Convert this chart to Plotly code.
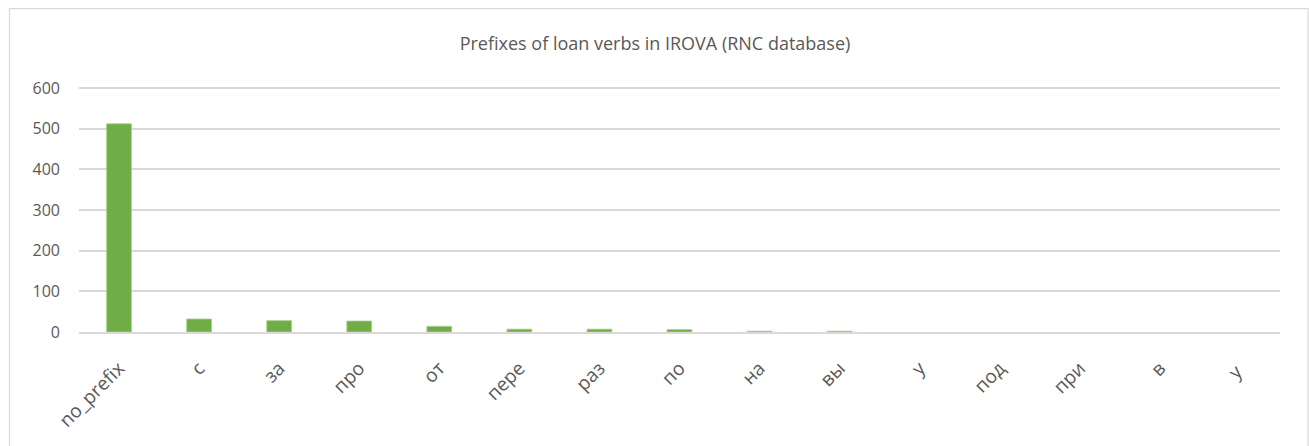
import plotly.graph_objects as go

categories = ["no_prefix", "с", "за", "про", "от", "пере", "раз", "по", "на", "вы", "у", "под", "при", "в", "у "]
values = [512, 32, 28, 27, 14, 7, 7, 6, 2, 2, 0, 0, 0, 0, 0]

W, H = 1309, 446
YMAX = 605
L, R, B = 79, 1280, 332
T = B - 244 * YMAX / 600
pw, ph = R - L, B - T

def px_x(x):
    return (x - L) / pw

def px_y(y):
    return (B - y) / ph

fig = go.Figure()
fig.add_trace(go.Bar(
    x=categories, y=values,
    marker=dict(color="#70AD47",
                line=dict(color="#A9D18E", width=[0.8 if v > 0 else 0 for v in values])),
    width=0.31,
))

fig.update_layout(
    width=W, height=H,
    margin=dict(l=L, r=W - R, t=T, b=H - B),
    paper_bgcolor="white", plot_bgcolor="white",
    showlegend=False,
    font=dict(family="Open Sans, Liberation Sans, sans-serif", color="#595959", size=15),
    title=dict(text="Prefixes of loan verbs in IROVA (RNC database)",
               x=655 / W, xanchor="center", y=1 - 44 / H, yanchor="middle",
               font=dict(size=18, color="#595959")),
    xaxis=dict(tickangle=-45, showgrid=False, showline=True, linecolor="#D9D9D9", linewidth=1.5,
               ticks="", ticklabelstandoff=16, tickfont=dict(size=19, color="#595959")),
    yaxis=dict(range=[0, YMAX], dtick=100, showgrid=True, gridcolor="#D9D9D9", gridwidth=1.5,
               zeroline=False, showline=False, ticks="", ticklabelstandoff=18,
               tickfont=dict(size=16, color="#595959")),
    shapes=[dict(type="rect", xref="paper", yref="paper",
                 x0=px_x(9.5), x1=px_x(1308), y0=px_y(460), y1=px_y(8.5),
                 line=dict(color="#D9D9D9", width=1.2), fillcolor="rgba(0,0,0,0)", layer="below")],
)

fig.write_html("out.html")
